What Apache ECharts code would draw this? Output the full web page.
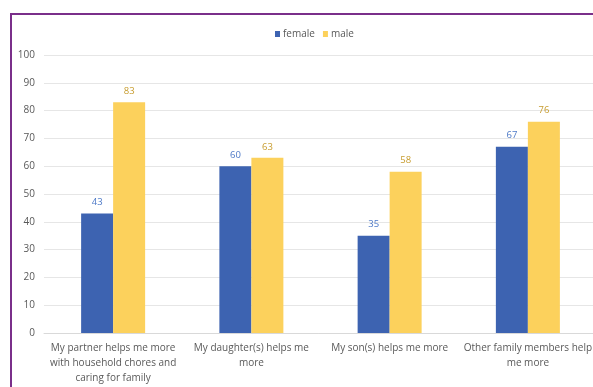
<!DOCTYPE html>
<html>
<head>
<meta charset="utf-8">
<script src="https://cdn.jsdelivr.net/npm/echarts@6/dist/echarts.min.js"></script>
<style>
  html, body { margin: 0; padding: 0; background: #fff; overflow: hidden; }
  #frame { position: absolute; left: 10px; top: 13px; width: 600px; height: 400px; border: 2px solid #7a2f8a; box-sizing: border-box; }
  #chart { position: absolute; left: 0; top: 0; width: 593px; height: 387px; }
</style>
</head>
<body>
<div id="frame"></div>
<div id="chart"></div>
<script>
const categories = [
  'My partner helps me more\nwith household chores and\ncaring for family',
  'My daughter(s) helps me\nmore',
  'My son(s) helps me more',
  'Other family members help\nme more'
];
const female = [43, 60, 35, 67];
const male = [83, 63, 58, 76];
const yTicks = [0, 10, 20, 30, 40, 50, 60, 70, 80, 90, 100];

const chart = echarts.init(document.getElementById('chart'), null, { renderer: 'canvas' });
const font = '"Open Sans", "Liberation Sans", sans-serif';
chart.setOption({
  animation: false,
  textStyle: { fontFamily: font },
  legend: {
    top: 24, left: 270,
    itemWidth: 5, itemHeight: 6, itemGap: 8,
    icon: 'rect',
    textStyle: { fontSize: 10, color: '#595959', fontFamily: font, padding: [0, 0, 0, -2] },
    data: ['female', 'male']
  },
  grid: { left: 44, width: 553, top: 55, bottom: 54, outerBoundsMode: 'none', containLabel: false },
  xAxis: {
    type: 'category',
    data: categories,
    axisLine: { lineStyle: { color: '#d9d9d9' } },
    axisTick: { show: false },
    axisLabel: { color: '#595959', fontSize: 10, lineHeight: 15, margin: 8, interval: 0, fontFamily: font }
  },
  yAxis: {
    type: 'value',
    min: yTicks[0], max: yTicks[yTicks.length - 1], interval: 10,
    axisLine: { show: false },
    axisTick: { show: false },
    axisLabel: { color: '#595959', fontSize: 10, margin: 9, fontFamily: font },
    splitLine: { lineStyle: { color: '#e6e6e6' } }
  },
  series: [
    {
      name: 'female', type: 'bar', data: female,
      barWidth: 32, barGap: '0%',
      itemStyle: { color: '#3d63b1' },
      label: { show: true, position: 'top', distance: 6, color: '#4d79c7', fontSize: 9.5, fontFamily: font }
    },
    {
      name: 'male', type: 'bar', data: male,
      barWidth: 32,
      itemStyle: { color: '#fcd15c' },
      label: { show: true, position: 'top', distance: 6, color: '#c79c2e', fontSize: 9.5, fontFamily: font }
    }
  ]
});
</script>
</body>
</html>
